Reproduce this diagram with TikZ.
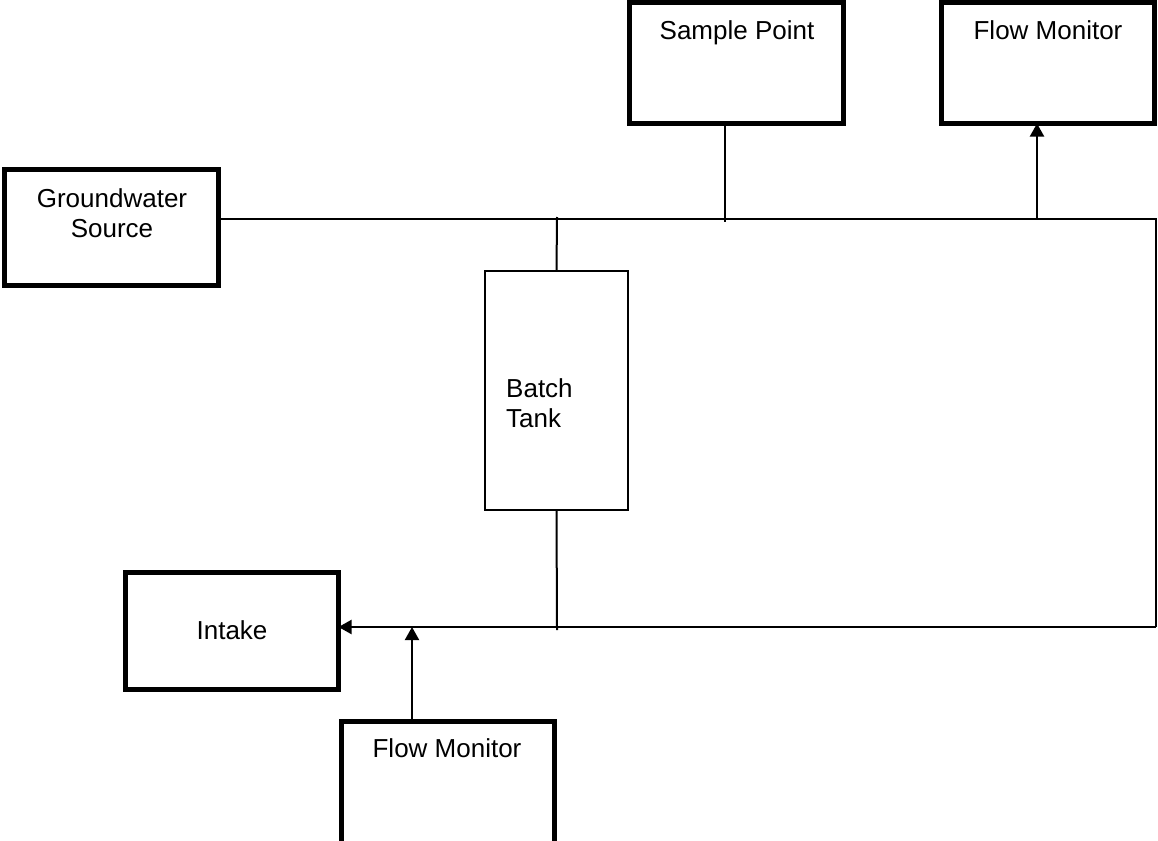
\documentclass[tikz,border=0pt]{standalone}
\usepackage{fontspec}
\setmainfont{Liberation Sans}
\usetikzlibrary{arrows.meta}
\begin{document}
\begin{tikzpicture}[x=1pt,y=-1pt,
  thickbox/.style={draw=black,line width=5pt,inner sep=0pt,outer sep=0pt,fill=white},
  thinbox/.style={draw=black,line width=2pt,inner sep=0pt,outer sep=0pt,fill=white},
  pipe/.style={draw=black,line width=2pt},
  flow/.style={draw=black,line width=2pt,-{Triangle[length=13pt,width=14pt]}},
  lbl/.style={anchor=base,inner sep=0pt,font=\fontsize{26}{30}\selectfont}]
\useasboundingbox (0,0) rectangle (1158,840);
\fill[white] (0,0) rectangle (1158,840);
% boxes
\node[thickbox,minimum width=214pt,minimum height=116pt] (gw) at (111.5,227.5) {};
\node[thickbox,minimum width=214pt,minimum height=121pt] (sp) at (736.5,63) {};
\node[thickbox,minimum width=213pt,minimum height=121pt] (fm1) at (1048,63) {};
\node[thickbox,minimum width=213pt,minimum height=117pt] (in) at (232,631) {};
\node[thickbox,minimum width=213pt,minimum height=124pt] (fm2) at (448,783) {};
\node[thinbox,minimum width=143pt,minimum height=239pt] (bt) at (556.5,390.5) {};
% labels
\node[lbl] (gwa) at (112,207) {Groundwater};
\node[lbl] (gwb) at (112,237) {Source};
\node[lbl] (spl) at (737,40) {Sample Point};
\node[lbl] (fm1l) at (1048,40) {Flow Monitor};
\node[lbl] (inl) at (232,639) {Intake};
\node[lbl] (fm2l) at (447,757) {Flow Monitor};
\node[lbl,anchor=base west] (bta) at (506,397) {Batch};
\node[lbl,anchor=base west] (btb) at (506,427) {Tank};
% junction coordinates
\coordinate (jtr) at (1156,219);
\coordinate (jbr) at (1156,627);
\coordinate (jsp) at (725,222);
\coordinate (jbt) at (557,217);
\coordinate (jbb) at (557,630);
\coordinate (jfm1) at (1037,219);
\coordinate (jfm2) at (412,627);
% main pipe
\draw[pipe] (gw.east |- jtr) -- (jtr) -- (jbr);
\draw[flow] (jbr) -- (in.east |- jbr);
% branches
\draw[pipe] (jsp |- sp.south) -- (jsp);
\draw[pipe] (jbt) -- (bt.north);
\draw[pipe] (bt.south) -- (jbb);
\draw[flow] (jfm1) -- (jfm1 |- fm1.south);
\draw[flow] (jfm2 |- fm2.north) -- (jfm2);
\end{tikzpicture}
\end{document}
